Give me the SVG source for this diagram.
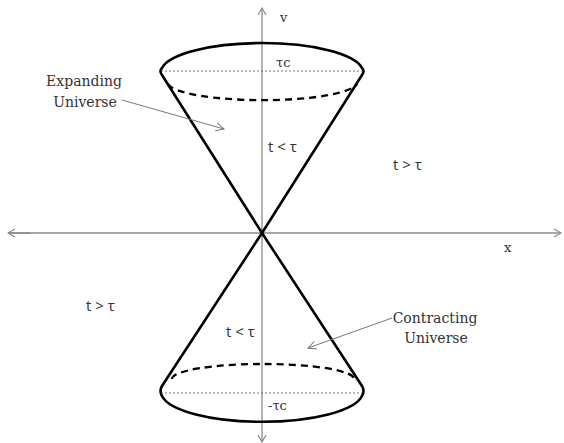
<svg xmlns="http://www.w3.org/2000/svg" width="564" height="443" viewBox="0 0 564 443">
<style>
.axis{stroke:#8a8a8a;stroke-width:1.3;fill:none}
.cone{stroke:#000;stroke-width:2.6;fill:none;stroke-linecap:round}
.dash{stroke:#000;stroke-width:2.3;fill:none;stroke-dasharray:7 5}
.dot{stroke:#555;stroke-width:0.8;fill:none;stroke-dasharray:2 2}
.ptr{stroke:#777;stroke-width:1;fill:none}
.lbl{font-family:"DejaVu Serif","Liberation Serif",serif;font-size:14px;fill:#333}
.cond{font-family:"Open Sans","Liberation Sans",sans-serif;font-size:15px;fill:#333}
.sm{font-family:"DejaVu Serif","Liberation Serif",serif;font-size:13px;fill:#333}
</style>
<defs>
<marker id="open" markerWidth="10" markerHeight="10" refX="9" refY="5" orient="auto" markerUnits="userSpaceOnUse">
<path d="M1,1 L9,5 L1,9" fill="none" stroke="#777" stroke-width="1"/>
</marker>
<marker id="axarr" markerWidth="10" markerHeight="10" refX="9" refY="5" orient="auto" markerUnits="userSpaceOnUse">
<path d="M2,1 L9,5 L2,9" fill="none" stroke="#8a8a8a" stroke-width="1.2"/>
</marker>
</defs>
<rect width="564" height="443" fill="#fff"/>
<g id="axes">
<line class="axis" x1="262" y1="440" x2="262" y2="8" marker-end="url(#axarr)"/>
<line class="axis" x1="262" y1="440" x2="262" y2="442" marker-end="url(#axarr)"/>
<line class="axis" x1="8" y1="233" x2="561" y2="233" marker-end="url(#axarr)"/>
<line class="axis" x1="30" y1="233" x2="8" y2="233" marker-end="url(#axarr)"/>
</g>
<g id="upper-cone">
<path class="cone" d="M262,233 L162,75 Q159,71 162,68 A101,29 0 0 1 362,68 Q365,71 362,75 L262,233"/>
<path class="dash" d="M168,84 A95,18 0 0 0 357,84"/>
<line class="dot" x1="161" y1="71" x2="363" y2="71"/>
</g>
<g id="lower-cone">
<path class="cone" d="M262,233 L162,386 Q159,391 162,396 A101,30 0 0 0 362,396 Q365,391 362,386 L262,233"/>
<path class="dash" d="M172,379 A91,15 0 0 1 354,379"/>
<line class="dot" x1="161" y1="393" x2="363" y2="393"/>
</g>
<g id="connectors">
<line class="ptr" x1="122" y1="100" x2="224" y2="129" marker-end="url(#open)"/>
<line class="ptr" x1="392" y1="318" x2="308" y2="348" marker-end="url(#open)"/>
</g>
<g id="labels">
<text class="sm" x="280" y="22">v</text>
<text class="sm" x="276" y="67">τc</text>
<text class="sm" x="268" y="410">-τc</text>
<text class="sm" x="504" y="252">x</text>
<text class="lbl" x="84" y="86" text-anchor="middle">Expanding</text>
<text class="lbl" x="85" y="107" text-anchor="middle">Universe</text>
<text class="lbl" x="435" y="323" text-anchor="middle">Contracting</text>
<text class="lbl" x="436" y="343" text-anchor="middle">Universe</text>
<text class="cond" x="268" y="152">t &lt; τ</text>
<text class="cond" x="393" y="170">t &gt; τ</text>
<text class="cond" x="86" y="311">t &gt; τ</text>
<text class="cond" x="226" y="337">t &lt; τ</text>
</g>
</svg>
